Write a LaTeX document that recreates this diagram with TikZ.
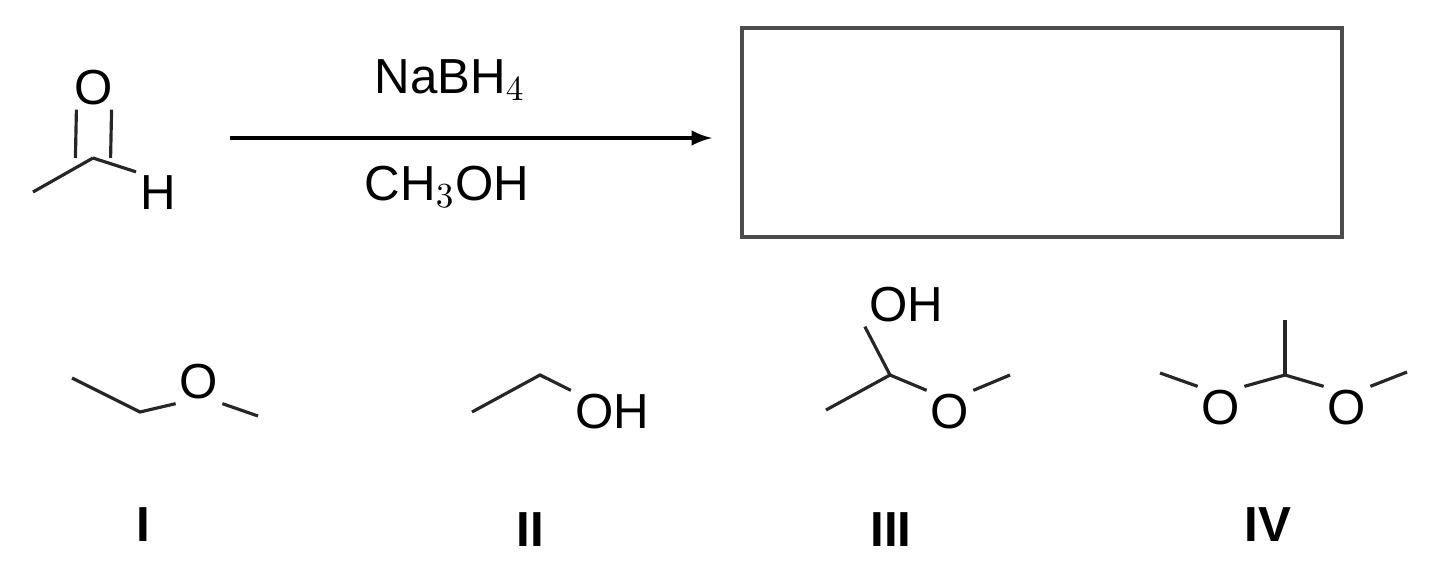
\documentclass[tikz,border=0pt]{standalone}
\usepackage{fontspec}
\setmainfont{Liberation Sans}
\tikzset{bond/.style={line width=0.9pt,black!85},
 atom/.style={font=\fontsize{14}{16}\selectfont,inner sep=1pt},
 lab/.style={font=\fontsize{14}{16}\selectfont\bfseries}}
\begin{document}
\begin{tikzpicture}[x=0.01cm,y=-0.01cm]
\useasboundingbox (0,0) rectangle (1440,573);
% acetaldehyde
\node[atom] (o0) at (94,88) {O};
\node[atom] (h0) at (158,193) {H};
\coordinate (c0) at (93,158);
\coordinate (m0) at (33,192);
\draw[bond] (m0)--(c0);
\draw[bond] ([xshift=-5]c0)--([xshift=-5]o0.south);
\draw[bond] ([xshift=5]c0)--([xshift=5]o0.south);
\draw[bond] (c0)--(h0.north west);
% arrow
\coordinate (a1) at (230,138); \coordinate (a2) at (712,138);
\draw[line width=1pt,-latex] (a1)--(a2);
\node[atom] (r1) at (450,80) {NaBH$_4$};
\node[atom] (r2) at (447,187) {CH$_3$OH};
\node[draw=black!70,line width=1.2pt,minimum width=6cm,minimum height=2.09cm,inner sep=0] (box) at (1042,132.5) {};
% I
\node[atom] (o1) at (199,382) {O};
\coordinate (i1) at (72,378); \coordinate (i2) at (140,412); \coordinate (i3) at (258,416);
\draw[bond] (i1)--(i2)--(o1.south west);
\draw[bond] (o1.south east)--(i3);
% II
\node[atom] (oh2) at (612,412) {OH};
\coordinate (j1) at (472,412); \coordinate (j2) at (540,375);
\draw[bond] (j1)--(j2)--(oh2.north west);
% III
\node[atom] (oh3) at (906,305) {OH};
\node[atom] (o3) at (950,412) {O};
\coordinate (k1) at (826,410); \coordinate (k2) at (890,375); \coordinate (k3) at (1010,375);
\draw[bond] (k1)--(k2)--(o3.north west);
\draw[bond] (k2)--(oh3.south west);
\draw[bond] (o3.north east)--(k3);
% IV
\node[atom] (o4a) at (1221,408) {O};
\node[atom] (o4b) at (1347,408) {O};
\coordinate (l1) at (1160,373); \coordinate (l2) at (1285,375);
\coordinate (l3) at (1285,320); \coordinate (l4) at (1407,372);
\draw[bond] (l1)--(o4a.north west);
\draw[bond] (o4a.north east)--(l2)--(o4b.north west);
\draw[bond] (l2)--(l3);
\draw[bond] (o4b.north east)--(l4);
% labels
\node[lab] (n1) at (143,525) {I};
\node[lab] (n2) at (530,530) {II};
\node[lab] (n3) at (891,530) {III};
\node[lab] (n4) at (1268,525) {IV};
\end{tikzpicture}
\end{document}
